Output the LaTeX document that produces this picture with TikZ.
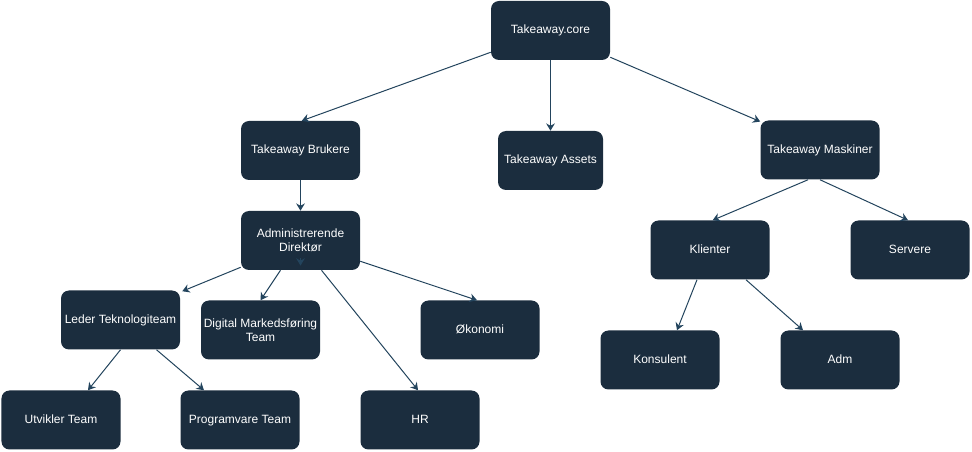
\documentclass[tikz,border=0pt]{standalone}
\usepackage{fontspec}
\setmainfont{Liberation Sans}
\usetikzlibrary{arrows.meta,calc}
\definecolor{boxfill}{HTML}{1B2D3E}
\definecolor{edgecol}{HTML}{23445D}
\tikzset{
  box/.style={draw=none, fill=boxfill, rounded corners=6pt, minimum width=89.25pt,
    minimum height=44.25pt, inner sep=0pt, text=white, align=center,
    font=\fontsize{9pt}{10.8pt}\selectfont},
  onebox/.style={box, text height=6.6pt, text depth=1.9pt},
  edge/.style={draw=edgecol, line width=0.75pt,
    -{Stealth[length=5.5pt,width=6.5pt,inset=1.8pt]}}
}
\begin{document}
\begin{tikzpicture}[x=0.75pt,y=-0.75pt]
\useasboundingbox (0,0) rectangle (972,452);
\node[onebox] (core) at (550.5,30.5) {Takeaway.core};
\node[onebox] (bru) at (300.5,150.5) {Takeaway Brukere};
\node[onebox, minimum width=78.75pt] (ass) at (550.5,160.5) {Takeaway Assets};
\node[onebox] (mask) at (820,150) {Takeaway Maskiner};
\node[box] (adm) at (300.5,240.5) {Administrerende\\Direktør};
\node[onebox] (kli) at (710,250) {Klienter};
\node[onebox] (serv) at (910,250) {Servere};
\node[onebox] (led) at (120.5,320) {Leder Teknologiteam};
\node[box] (dig) at (260.5,330) {Digital Markedsføring\\Team};
\node[onebox] (oko) at (480,330) {Økonomi};
\node[onebox] (kons) at (660,360) {Konsulent};
\node[onebox] (admn) at (840,360) {Adm};
\node[onebox] (utv) at (61,420) {Utvikler Team};
\node[onebox] (prog) at (240,420) {Programvare Team};
\node[onebox] (hr) at (420,420) {HR};

\draw[edge] ([yshift=6pt]core.south west) -- ([xshift=1pt]bru.north);
\draw[edge] (core.south) -- (ass.north);
\draw[edge] ([yshift=2.25pt]core.south east) -- ([yshift=-1pt]mask.north west);
\draw[edge] (bru.south) -- (adm.north);
\draw[edge] ([xshift=-9pt]mask.south) -- ([xshift=2pt]kli.north);
\draw[edge] (mask.south) -- ([xshift=-1.5pt]serv.north);
\draw[edge] ([xshift=-9.75pt]kli.south) -- ([xshift=12.75pt]kons.north);
\draw[edge] ([xshift=27pt]kli.south) -- ([xshift=-27.75pt]admn.north);
\draw[edge] ([yshift=2.25pt]adm.south west) -- ([xshift=1.5pt,yshift=-0.75pt]led.north east);
\draw[edge] ([xshift=-15pt]adm.south) -- (dig.north);
\draw[edge] ([xshift=15.75pt]adm.south) -- ([xshift=-1.5pt]hr.north);
\draw[edge] ([yshift=6.75pt]adm.south east) -- ([xshift=-2.25pt]oko.north);
\draw[edge] (led.south) -- ([xshift=20.25pt]utv.north);
\draw[edge] ([xshift=27pt]led.south) -- ([xshift=-27pt]prog.north);
\draw[edge] ([yshift=9pt]adm.south) -- ([yshift=3.5pt]adm.south);
\end{tikzpicture}
\end{document}
